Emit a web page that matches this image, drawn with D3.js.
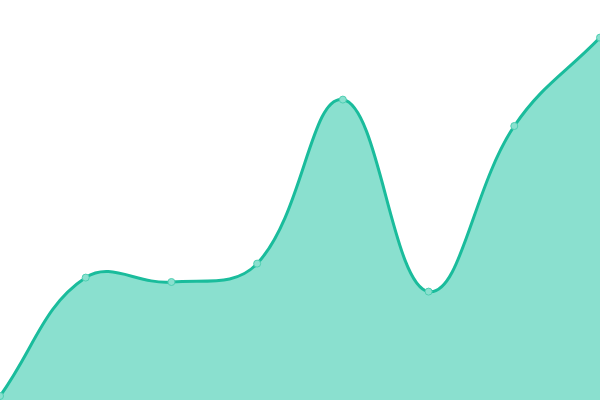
<!DOCTYPE html>
<html>
<head>
<meta charset="utf-8">
<title>Area</title>
<script src="https://cdn.jsdelivr.net/npm/d3@7"></script>
<style>
    html, body { margin: 0; padding: 0; background: #fff; }
    svg { display: block; }
</style>
</head>
<body>
<svg id="chart" width="600" height="400"></svg>
<script>
// data
const labels = ["A", "B", "C", "D", "E", "F", "G", "H"];
const values = [1, 30.6, 29.5, 34.1, 75.1, 27.1, 68.5, 90.6];
const yDomain = [0, 100];

const width = 600, height = 400;
const lineColor = "#1abc9c";
const fillColor = "#8ae0cf";

const svg = d3.select("#chart");

const x = d3.scalePoint().domain(labels).range([0, width]);
const y = d3.scaleLinear().domain(yDomain).range([height, 0]);

// spline with tension, weighted by segment length (like Chart.js line tension)
function tensionCurve(tension) {
    function Curve(context) { this._context = context; }
    Curve.prototype = {
        areaStart: function () { this._line = 0; },
        areaEnd: function () { this._line = NaN; },
        lineStart: function () { this._pts = []; },
        point: function (px, py) { this._pts.push([+px, +py]); },
        lineEnd: function () {
            var p = this._pts, c = this._context, n = p.length;
            if (n) {
                if (this._line) c.lineTo(p[0][0], p[0][1]);
                else c.moveTo(p[0][0], p[0][1]);
                var cps = p.map(function (cur, i) {
                    var prev = p[Math.max(i - 1, 0)], next = p[Math.min(i + 1, n - 1)];
                    var d01 = Math.hypot(cur[0] - prev[0], cur[1] - prev[1]);
                    var d12 = Math.hypot(next[0] - cur[0], next[1] - cur[1]);
                    var s01 = d01 / (d01 + d12), s12 = d12 / (d01 + d12);
                    if (isNaN(s01)) s01 = 0;
                    if (isNaN(s12)) s12 = 0;
                    var fa = tension * s01, fb = tension * s12;
                    return {
                        prev: [cur[0] - fa * (next[0] - prev[0]), cur[1] - fa * (next[1] - prev[1])],
                        next: [cur[0] + fb * (next[0] - prev[0]), cur[1] + fb * (next[1] - prev[1])]
                    };
                });
                for (var i = 1; i < n; i++) {
                    c.bezierCurveTo(cps[i - 1].next[0], cps[i - 1].next[1],
                        cps[i].prev[0], cps[i].prev[1], p[i][0], p[i][1]);
                }
            }
            if (this._line || (this._line !== 0 && n === 1)) c.closePath();
            this._line = 1 - this._line;
        }
    };
    return function (context) { return new Curve(context); };
}

const curve = tensionCurve(0.4);

const area = d3.area()
    .x((d, i) => x(labels[i]))
    .y0(y(yDomain[0]))
    .y1(d => y(d))
    .curve(curve);

const line = d3.line()
    .x((d, i) => x(labels[i]))
    .y(d => y(d))
    .curve(curve);

svg.append("path")
    .datum(values)
    .attr("d", area)
    .attr("fill", fillColor);

svg.append("path")
    .datum(values)
    .attr("d", line)
    .attr("fill", "none")
    .attr("stroke", lineColor)
    .attr("stroke-width", 3);

svg.selectAll("circle.pt")
    .data(values)
    .enter().append("circle")
    .attr("class", "pt")
    .attr("cx", (d, i) => x(labels[i]))
    .attr("cy", d => y(d))
    .attr("r", 3.5)
    .attr("fill", "#8ae0cf")
    .attr("stroke", "#4fcfb2")
    .attr("stroke-width", 1);
</script>
</body>
</html>
